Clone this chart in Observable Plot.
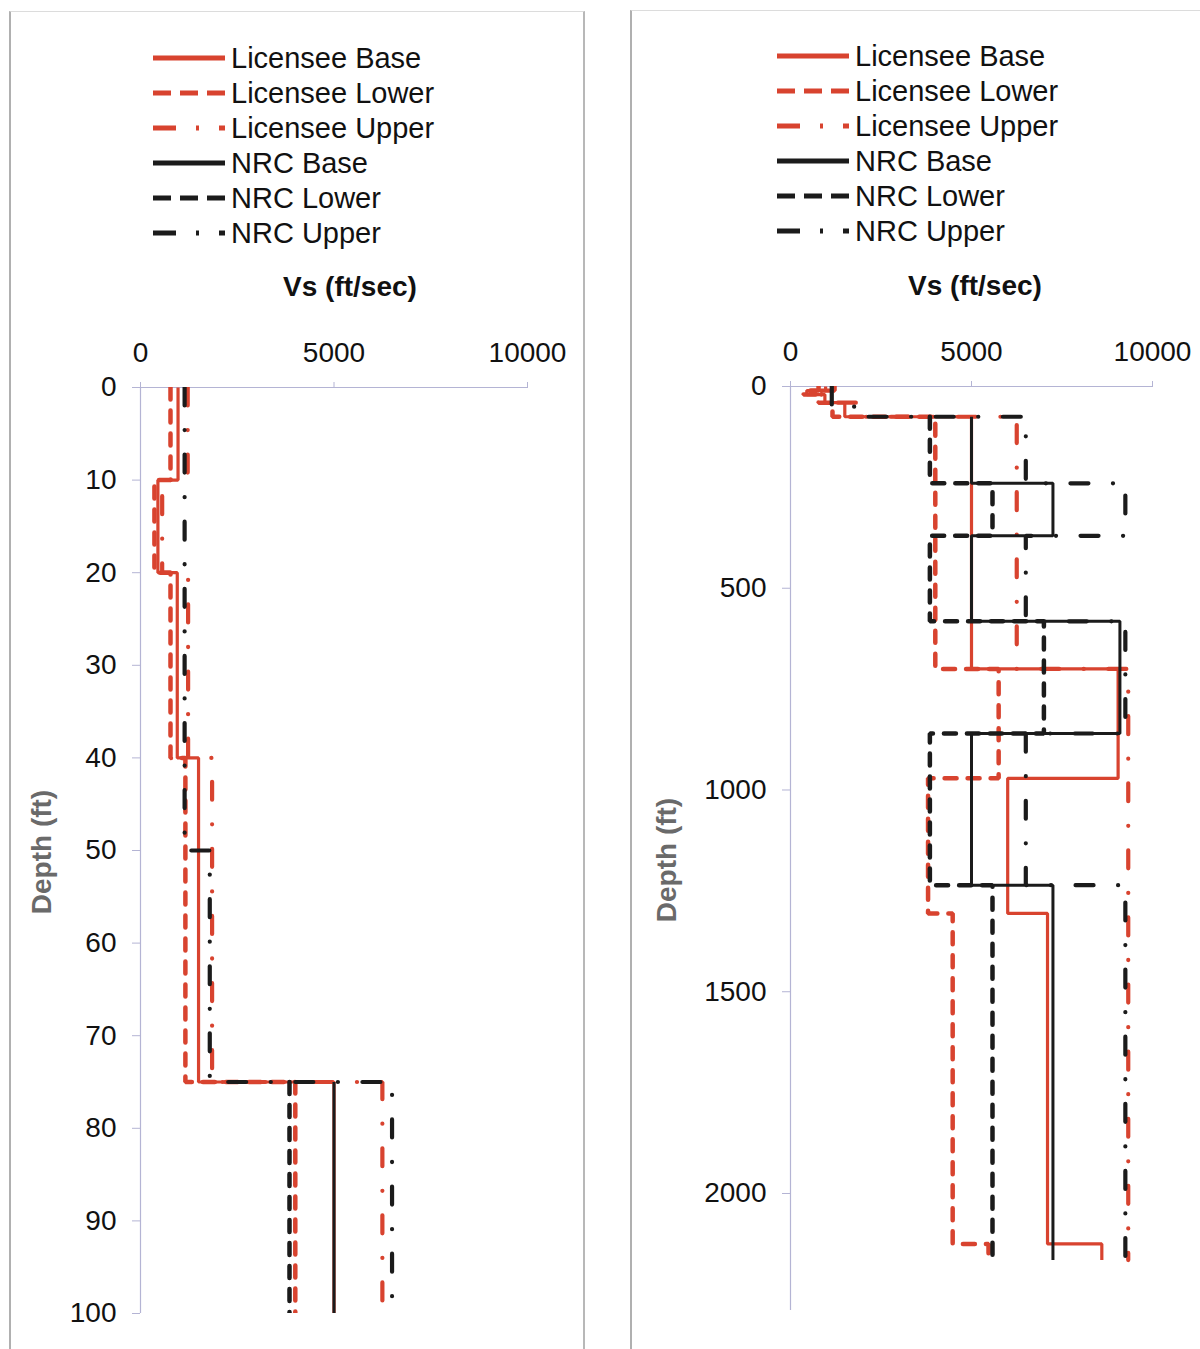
<!DOCTYPE html>
<html>
<head>
<meta charset="utf-8">
<script src="https://cdn.jsdelivr.net/npm/d3@7"></script>
<script src="https://cdn.jsdelivr.net/npm/@observablehq/plot@0.6"></script>
<style>
  html, body { margin: 0; padding: 0; background: #fff; }
  #page { position: relative; width: 1200px; height: 1349px; overflow: hidden; background: #fff;
          font-family: "Liberation Sans", Arial, Helvetica, sans-serif; color: #111; }
  .frame { position: absolute; box-sizing: border-box; }
  .legrow { position: absolute; height: 34px; display: flex; align-items: center; font-size: 29px; white-space: nowrap; }
  .legrow svg { display: block; margin-right: 6px; }
  .xlab { position: absolute; font-weight: bold; font-size: 28px; transform: translate(-50%, -50%); white-space: nowrap; }
  .ylab { position: absolute; font-weight: bold; font-size: 28px; color: #6a6a6a; transform: translate(-50%, -50%) rotate(-90deg); white-space: nowrap; }
</style>
</head>
<body>
<div id="page"></div>
<script>
// ---------------- DATA ----------------
const seriesNames = ["Licensee Base", "Licensee Lower", "Licensee Upper", "NRC Base", "NRC Lower", "NRC Upper"];

// Layer boundaries (ft) and Vs values (ft/sec) per layer
const licenseeDepths = [0, 10, 20, 40, 75, 700, 971, 1306, 2125, 2165];
const licenseeBase   = [970, 450, 950, 1500, 5000, 9050, 6000, 7100, 8600];
const licenseeLower  = [775, 360, 775, 1160, 4000, 5750, 3800, 4480, 5470];
const licenseeUpper  = [1220, 560, 1230, 1850, 6250, 9330, 9330, 9330, 9330];

const nrcDepths      = [75, 240, 370, 582, 860, 1236, 2165];
const nrcBase        = [5000, 7250, 5000, 9100, 5000, 7250];
const nrcLower       = [3850, 5580, 3850, 7000, 3850, 5580];
const nrcUpperDepths = [0, 50, 75, 240, 370, 582, 860, 1236, 2165];
const nrcUpper       = [1140, 1790, 6500, 9250, 6500, 9250, 6500, 9250];

const vsTicks = [0, 5000, 10000];
const depthTicksShallow = [0, 10, 20, 30, 40, 50, 60, 70, 80, 90, 100];
const depthTicksDeep = [0, 500, 1000, 1500, 2000];

// ---------------- STYLES ----------------
const RED = "#d8432f", BLACK = "#1b1b1b", AXIS = "#b4b4d4";
const styles = {
  "Licensee Base":  {stroke: RED,   width: 3.2, dash: null,               legDash: null},
  "Licensee Lower": {stroke: RED,   width: 4.5, dash: "12,11",            legDash: "18,9"},
  "Licensee Upper": {stroke: RED,   width: 4.2, dash: "18,24.5,0.1,24.5", legDash: "23,20,3,20"},
  "NRC Base":       {stroke: BLACK, width: 3,   dash: null,               legDash: null},
  "NRC Lower":      {stroke: BLACK, width: 4.5, dash: "12,11",            legDash: "18,9"},
  "NRC Upper":      {stroke: BLACK, width: 4.2, dash: "18,24.5,0.1,24.5", legDash: "23,20,3,20"}
};

function steps(depths, values) {
  const pts = [];
  values.forEach((v, i) => { pts.push({v, d: depths[i]}); pts.push({v, d: depths[i + 1]}); });
  return pts;
}
const profiles = {
  "Licensee Base": steps(licenseeDepths, licenseeBase),
  "Licensee Lower": steps(licenseeDepths, licenseeLower),
  "Licensee Upper": steps(licenseeDepths, licenseeUpper),
  "NRC Base": steps(nrcDepths, nrcBase),
  "NRC Lower": steps(nrcDepths, nrcLower),
  "NRC Upper": steps(nrcUpperDepths, nrcUpper)
};

const page = document.getElementById("page");
const fmt = d3.format("d");

function makePanel(cfg) {
  const marks = [
    Plot.ruleY([0], {stroke: AXIS, strokeWidth: 1.2}),
    Plot.ruleX([0], {stroke: AXIS, strokeWidth: 1.2}),
    Plot.axisX(vsTicks, {anchor: "top", tickSize: 6, tickPadding: 20, fontSize: 28, color: "#111", stroke: AXIS, label: null, tickFormat: fmt}),
    Plot.axisY(cfg.yTicks, {anchor: "left", tickSize: 8, tickPadding: 16, fontSize: 28, color: "#111", stroke: AXIS, label: null, tickFormat: fmt})
  ];
  for (const name of seriesNames) {
    const s = styles[name];
    marks.push(Plot.line(profiles[name], {
      x: "v", y: "d", stroke: s.stroke, strokeWidth: s.width,
      strokeDasharray: s.dash, strokeLinecap: s.dash ? "round" : "butt",
      strokeLinejoin: "miter", clip: true
    }));
  }
  const svg = Plot.plot({
    width: cfg.width, height: 1349,
    marginTop: cfg.mt, marginLeft: cfg.ml, marginRight: cfg.mr, marginBottom: cfg.mb,
    style: {fontFamily: '"Liberation Sans", Arial, Helvetica, sans-serif', fontSize: "28px", background: "transparent", overflow: "visible"},
    x: {domain: [0, 10000]},
    y: {domain: cfg.yDomain, reverse: true},
    marks
  });
  svg.style.position = "absolute";
  svg.style.left = cfg.left + "px";
  svg.style.top = "0px";
  page.appendChild(svg);

  // legend
  seriesNames.forEach((name, k) => {
    const s = styles[name];
    const row = document.createElement("div");
    row.className = "legrow";
    row.style.left = cfg.legX + "px";
    row.style.top = (cfg.legY + 35 * k - 17) + "px";
    row.innerHTML = `<svg width="72" height="10"><line x1="0" y1="5" x2="72" y2="5" stroke="${s.stroke}" stroke-width="5" ${s.legDash ? `stroke-dasharray="${s.legDash}"` : ""}/></svg><span>${name}</span>`;
    page.appendChild(row);
  });

  const xl = document.createElement("div");
  xl.className = "xlab"; xl.textContent = "Vs (ft/sec)";
  xl.style.left = cfg.xlabX + "px"; xl.style.top = cfg.xlabY + "px";
  page.appendChild(xl);

  const yl = document.createElement("div");
  yl.className = "ylab"; yl.textContent = "Depth (ft)";
  yl.style.left = cfg.ylabX + "px"; yl.style.top = cfg.ylabY + "px";
  page.appendChild(yl);
}

// frames
const f1 = document.createElement("div");
f1.className = "frame";
Object.assign(f1.style, {left: "9px", top: "11px", width: "576px", height: "1345px",
  borderLeft: "2px solid #b0b0b0", borderTop: "1px solid #dcdcdc", borderRight: "2px solid #b8b8b8"});
page.appendChild(f1);
const f2 = document.createElement("div");
f2.className = "frame";
Object.assign(f2.style, {left: "630px", top: "10px", width: "600px", height: "1345px",
  borderLeft: "2px solid #b0b0b0", borderTop: "1px solid #dcdcdc"});
page.appendChild(f2);

makePanel({left: 0, width: 600, ml: 140, mr: 73, mt: 387, mb: 36,
  yDomain: [0, 100], yTicks: depthTicksShallow,
  legX: 153, legY: 58, xlabX: 350, xlabY: 287, ylabX: 42, ylabY: 852});
makePanel({left: 620, width: 580, ml: 170, mr: 48, mt: 386, mb: 39,
  yDomain: [0, 2290], yTicks: depthTicksDeep,
  legX: 777, legY: 56, xlabX: 975, xlabY: 286, ylabX: 667, ylabY: 860});
</script>
</body>
</html>
